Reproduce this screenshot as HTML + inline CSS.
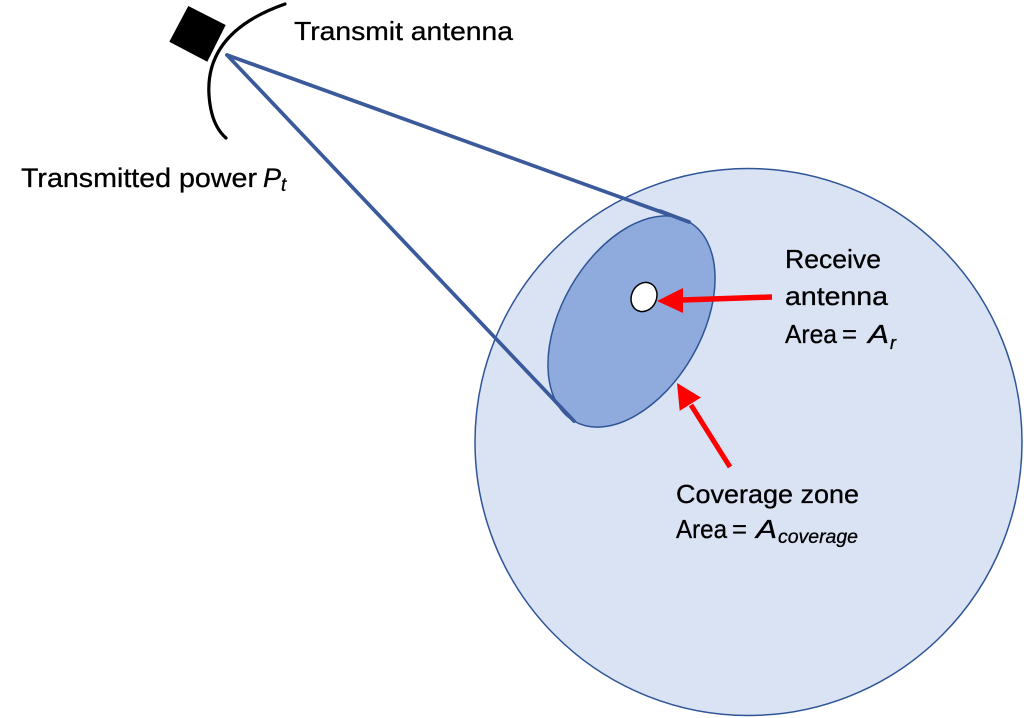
<!DOCTYPE html>
<html><head><meta charset="utf-8"><style>
html,body{margin:0;padding:0;background:#fff;}
svg{display:block;}
text{font-family:"Liberation Sans",sans-serif;fill:#000;stroke:#000;stroke-width:0.3;}
</style></head><body>
<svg width="1024" height="718" viewBox="0 0 1024 718" xmlns="http://www.w3.org/2000/svg">
<rect width="1024" height="718" fill="#fff"/>
<!-- coverage circle -->
<circle cx="748.5" cy="442" r="273.5" fill="#dae3f3" stroke="#2f5597" stroke-width="1.5"/>
<!-- beam lines -->
<line x1="227" y1="55" x2="689" y2="222" stroke="#3a5a9c" stroke-width="3.7" stroke-linecap="round"/>
<line x1="227" y1="55" x2="574" y2="421" stroke="#3a5a9c" stroke-width="3.7" stroke-linecap="round"/>
<!-- coverage ellipse -->
<ellipse cx="631.5" cy="321.5" rx="115" ry="70" transform="rotate(-60 631.5 321.5)" fill="#8faadc" stroke="#2f5597" stroke-width="1.5"/>
<line x1="660" y1="211" x2="689" y2="222" stroke="#3a5a9c" stroke-width="3.7" stroke-linecap="round"/>
<line x1="555" y1="401" x2="574" y2="421" stroke="#3a5a9c" stroke-width="3.7" stroke-linecap="round"/>
<!-- receive antenna -->
<ellipse cx="644" cy="297" rx="12.5" ry="15" transform="rotate(25 644 297)" fill="#fff" stroke="#000" stroke-width="1.5"/>
<!-- transmit antenna -->
<polygon points="188.3,6 225.7,25 207.3,61.7 169.3,41.7" fill="#000"/>
<path d="M285,4 Q205,32 209,95 Q211,125 226,138" fill="none" stroke="#000" stroke-width="3.2" stroke-linecap="round"/>
<!-- red arrows -->
<line x1="772" y1="297" x2="682" y2="300" stroke="#ff0000" stroke-width="5.5"/>
<polygon points="657,301 683,288 683,313" fill="#ff0000"/>
<line x1="730" y1="467" x2="691" y2="405" stroke="#ff0000" stroke-width="5"/>
<polygon points="677,383 700.9,397.5 679.7,410.9" fill="#ff0000"/>
<!-- labels -->
<text x="294" y="40" font-size="26" textLength="219" lengthAdjust="spacingAndGlyphs">Transmit antenna</text>
<text x="21" y="187" font-size="27" textLength="236" lengthAdjust="spacingAndGlyphs">Transmitted power</text>
<text x="263" y="187" font-size="27" font-style="italic" textLength="18" lengthAdjust="spacingAndGlyphs">P</text>
<text x="281" y="191" font-size="19" font-style="italic">t</text>
<text x="785" y="268" font-size="26" textLength="96" lengthAdjust="spacingAndGlyphs">Receive</text>
<text x="785" y="305" font-size="26" textLength="103" lengthAdjust="spacingAndGlyphs">antenna</text>
<text x="785" y="343" font-size="26" textLength="52" lengthAdjust="spacingAndGlyphs">Area</text>
<text x="842" y="343" font-size="26" textLength="15" lengthAdjust="spacingAndGlyphs">=</text>
<text x="868" y="343" font-size="26" font-style="italic" textLength="21" lengthAdjust="spacingAndGlyphs">A</text>
<text x="890" y="349" font-size="18" font-style="italic">r</text>
<text x="676" y="503" font-size="26" textLength="183" lengthAdjust="spacingAndGlyphs">Coverage zone</text>
<text x="676" y="538" font-size="26" textLength="51" lengthAdjust="spacingAndGlyphs">Area</text>
<text x="732" y="538" font-size="26" textLength="15" lengthAdjust="spacingAndGlyphs">=</text>
<text x="756" y="538" font-size="26" font-style="italic" textLength="21" lengthAdjust="spacingAndGlyphs">A</text>
<text x="778" y="543" font-size="19" font-style="italic" textLength="80" lengthAdjust="spacingAndGlyphs">coverage</text>
</svg>
</body></html>
